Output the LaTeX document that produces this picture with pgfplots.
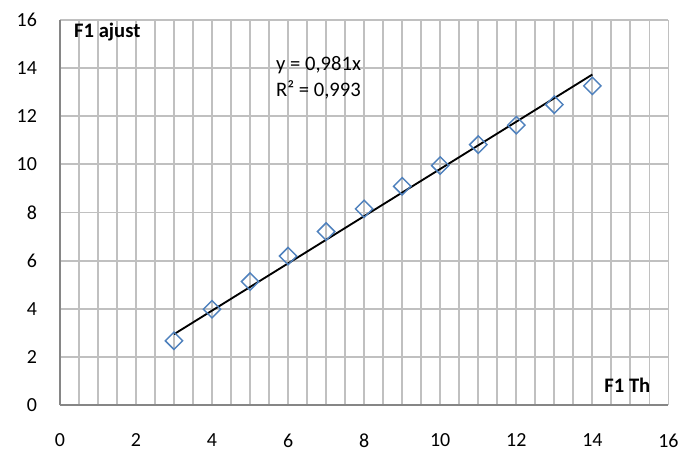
\documentclass[border=0pt]{standalone}
\usepackage{fontspec}
\setmainfont{Carlito}
\usepackage{pgfplots}
\pgfplotsset{compat=1.18}

\definecolor{gridgray}{HTML}{C0C0C0}
\definecolor{axisgray}{HTML}{868686}
\definecolor{markblue}{HTML}{4F81BD}

\begin{document}
\begin{tikzpicture}
  \begin{axis}[
    scale only axis,
    width=457.5pt,
    height=289.5pt,
    xmin=0, xmax=16,
    ymin=0, ymax=16,
    xtick={0,2,...,16},
    ytick={0,2,...,16},
    minor x tick num=3,
    major tick length=0pt,
    minor tick length=0pt,
    xmajorgrids, xminorgrids, ymajorgrids,
    grid style={gridgray, line width=1.4pt},
    minor grid style={gridgray, line width=1.4pt},
    axis x line*=bottom,
    axis y line*=left,
    axis line style={axisgray, line width=1.5pt, -},
    /pgf/number format/assume math mode=true,
    tick label style={font=\fontsize{15}{18}\selectfont, black},
    xticklabel shift=18pt,
    yticklabel shift=13.75pt,
    clip=false,
  ]
    \addplot[only marks, mark=square, mark size=4.6pt,
      mark options={rotate=45, markblue, line width=1.1pt}] coordinates {
      (3,2.67) (4,3.98) (5,5.13) (6,6.19) (7,7.21) (8,8.15)
      (9,9.09) (10,9.95) (11,10.82) (12,11.63) (13,12.48) (14,13.26)
    };
    \addplot[black, line width=1.4pt] coordinates {(3,2.943) (14,13.734)};

    \node[anchor=west, inner sep=0pt, font=\fontsize{15.5}{18}\selectfont\bfseries]
      at (axis cs:0.37,15.5) {F1 ajust};
    \node[anchor=east, inner sep=0pt, font=\fontsize{15.5}{18}\selectfont\bfseries]
      at (axis cs:15.53,0.83) {F1 Th};
    \node[anchor=west, inner sep=0pt, font=\fontsize{15.5}{18}\selectfont]
      at (axis cs:5.68,14.13) {y = 0,981x};
    \node[anchor=west, inner sep=0pt, font=\fontsize{15.5}{18}\selectfont]
      at (axis cs:5.68,13.10) {R² = 0,993};
  \end{axis}
  \path[use as bounding box] (-45pt,-36pt) rectangle (467.25pt,304.5pt);
\end{tikzpicture}
\end{document}
